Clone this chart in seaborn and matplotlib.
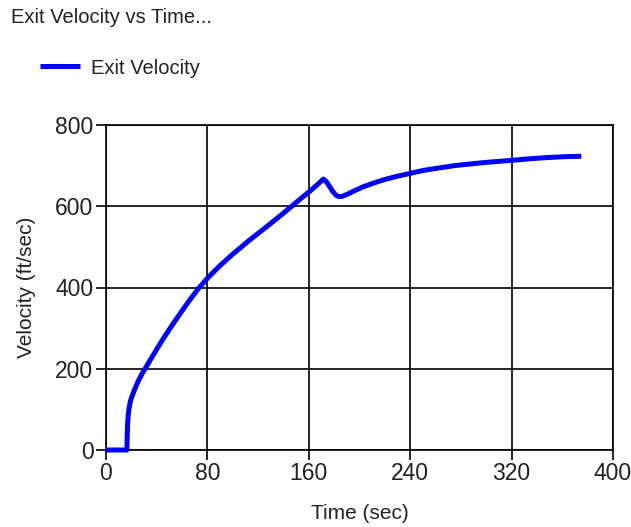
import matplotlib
matplotlib.use("Agg")
import matplotlib.pyplot as plt
import seaborn as sns
import pandas as pd

time_sec = [0, 10, 16.5, 16.7, 17, 17.5, 18.2, 19.4, 21, 23, 25.5, 28.5, 30.8, 35, 40.8,
            45, 50, 55, 61, 66, 72.8, 81, 90, 100, 113, 126.5, 140, 153, 160, 166, 171.5,
            174, 176.5, 179, 181.5, 183.5, 186, 190, 196, 203, 212, 220, 230, 240, 250,
            260, 275, 290, 300, 320, 335, 349, 362, 375]
velocity = [0, 0, 0, 30, 60, 85, 103, 122, 136, 152, 170, 188, 200, 222, 252,
            273, 297, 320, 347, 369, 397, 426, 454, 482, 516, 549, 583, 617, 635, 651, 667,
            660, 648, 636, 627, 624, 624, 629, 638, 648, 658, 666, 674, 681, 688,
            693, 700, 705, 708, 713, 717, 720, 722, 723]
x_ticks = [0, 80, 160, 240, 320, 400]
y_ticks = [0, 200, 400, 600, 800]

df = pd.DataFrame({"Time (sec)": time_sec, "Velocity (ft/sec)": velocity})

sns.set_theme(style="white")
plt.rcParams["font.family"] = ["Liberation Sans", "DejaVu Sans"]

fig = plt.figure(figsize=(6.31, 5.27), dpi=100)
ax = fig.add_axes([106 / 631, 1 - 450 / 527, (613 - 106) / 631, (450 - 125) / 527])

sns.lineplot(data=df, x="Time (sec)", y="Velocity (ft/sec)", ax=ax, color="#0000ff",
             linewidth=3.6, label="Exit Velocity", clip_on=False, zorder=5,
             solid_joinstyle="round", solid_capstyle="butt")

ax.set_xlim(0, 400)
ax.set_ylim(0, 800)
ax.set_xticks(x_ticks)
ax.set_yticks(y_ticks)
ax.grid(True, color="black", linewidth=1.2)
for s in ax.spines.values():
    s.set_color("black")
    s.set_linewidth(1.2)
ax.tick_params(axis="both", which="major", labelsize=16.5, colors="black",
               length=7, width=1.2, direction="out", bottom=True, left=True, pad=2)
for lab in ax.get_xticklabels() + ax.get_yticklabels():
    lab.set_color("#222222")
ax.set_xlabel("Time (sec)", fontsize=15, color="#222222", labelpad=13)
ax.set_ylabel("Velocity (ft/sec)", fontsize=15, color="#222222", labelpad=14)

ax.legend(loc="center left", bbox_to_anchor=(40 / 631, 1 - 68 / 527),
          bbox_transform=fig.transFigure, frameon=False, fontsize=14.5,
          handlelength=2.0, handletextpad=0.55, borderpad=0, borderaxespad=0,
          labelcolor="#222222")

fig.text(11 / 631, 1 - 8 / 527, "Exit Velocity vs Time...", fontsize=14.5,
         color="#222222", ha="left", va="top")

fig.savefig("out.png", dpi=100, facecolor="white")
